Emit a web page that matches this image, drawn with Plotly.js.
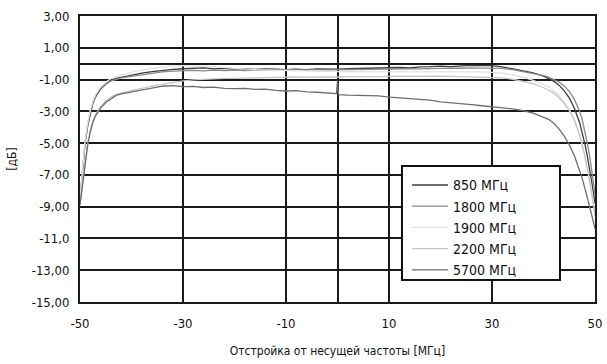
<!DOCTYPE html>
<html>
<head>
<meta charset="utf-8">
<script src="https://cdn.plot.ly/plotly-3.0.1.min.js"></script>
<style>html,body{margin:0;padding:0;background:#fff;}#chart{width:607px;height:364px;}</style>
</head>
<body>
<div id="chart"></div>
<script>
// Offset from carrier frequency [MHz]
const offset = [-50,-49.5,-49,-48.5,-48,-47.5,-47,-46,-45,-44,-43,-42,-40,-38,-36,-34,-32,-30,-28,-26,-24,-22,-20,-18,-16,-14,-12,-10,-8,-6,-4,-2,-0.2,0,0.2,2,4,6,8,10,12,14,16,18,20,22,24,26,28,30,32,34,36,38,40,41,42,43,44,45,46,47,47.5,48,48.5,49,49.5,50];

const s850 = [-8.6,-6.6,-5.0,-3.9,-3.1,-2.5,-2.1,-1.6,-1.3,-1.05,-0.92,-0.85,-0.72,-0.6,-0.5,-0.42,-0.36,-0.32,-0.3,-0.27,-0.33,-0.3,-0.34,-0.31,-0.36,-0.33,-0.35,-0.38,-0.34,-0.37,-0.33,-0.36,-0.35,-0.33,-0.35,-0.32,-0.3,-0.31,-0.27,-0.28,-0.24,-0.26,-0.2,-0.19,-0.16,-0.18,-0.13,-0.11,-0.12,-0.12,-0.2,-0.32,-0.43,-0.58,-0.78,-0.93,-1.1,-1.35,-1.7,-2.15,-2.8,-3.7,-4.3,-5.0,-5.8,-6.7,-7.7,-8.8];
const s1800 = [-8.5,-6.5,-4.9,-3.8,-3.0,-2.45,-2.05,-1.55,-1.28,-1.1,-0.98,-0.9,-0.8,-0.7,-0.6,-0.52,-0.47,-0.44,-0.42,-0.45,-0.41,-0.44,-0.4,-0.43,-0.39,-0.42,-0.4,-0.41,-0.38,-0.4,-0.37,-0.39,-0.38,-0.37,-0.38,-0.36,-0.38,-0.35,-0.36,-0.33,-0.35,-0.32,-0.33,-0.3,-0.31,-0.28,-0.29,-0.26,-0.28,-0.27,-0.3,-0.38,-0.5,-0.62,-0.75,-0.85,-0.98,-1.15,-1.4,-1.75,-2.25,-3.0,-3.5,-4.2,-5.0,-5.9,-7.0,-8.2];
const s1900 = [-8.4,-6.4,-4.8,-3.7,-2.9,-2.35,-1.95,-1.45,-1.15,-0.95,-0.8,-0.7,-0.55,-0.4,-0.3,-0.22,-0.15,-0.12,-0.12,-0.15,-0.2,-0.25,-0.3,-0.33,-0.38,-0.4,-0.42,-0.45,-0.47,-0.48,-0.5,-0.49,-0.5,-0.5,-0.51,-0.5,-0.52,-0.5,-0.53,-0.51,-0.5,-0.52,-0.5,-0.53,-0.51,-0.52,-0.5,-0.53,-0.52,-0.55,-0.6,-0.7,-0.85,-1.05,-1.3,-1.45,-1.7,-2.0,-2.4,-2.9,-3.5,-4.4,-5.0,-5.7,-6.5,-7.4,-8.4,-9.4];
const s2200 = [-8.8,-7.4,-6.1,-5.0,-4.2,-3.6,-3.2,-2.7,-2.35,-2.1,-1.95,-1.85,-1.7,-1.55,-1.42,-1.3,-1.18,-1.08,-1.02,-0.98,-0.96,-0.93,-0.92,-0.9,-0.88,-0.87,-0.86,-0.85,-0.84,-0.85,-0.83,-0.84,-0.84,-0.83,-0.84,-0.82,-0.83,-0.81,-0.82,-0.8,-0.79,-0.8,-0.78,-0.79,-0.78,-0.8,-0.82,-0.85,-0.88,-0.86,-0.9,-0.98,-1.1,-1.25,-1.5,-1.65,-1.85,-2.15,-2.5,-2.95,-3.55,-4.5,-5.1,-5.8,-6.6,-7.5,-8.5,-9.6];
const s5700 = [-8.9,-7.5,-6.2,-5.1,-4.3,-3.7,-3.3,-2.8,-2.45,-2.2,-2.0,-1.9,-1.78,-1.62,-1.5,-1.42,-1.38,-1.45,-1.43,-1.5,-1.48,-1.55,-1.57,-1.55,-1.62,-1.6,-1.68,-1.72,-1.7,-1.78,-1.8,-1.85,-1.88,-1.05,-1.95,-1.98,-2.0,-2.05,-2.03,-2.1,-2.15,-2.2,-2.25,-2.3,-2.4,-2.45,-2.5,-2.58,-2.65,-2.7,-2.78,-2.85,-2.95,-3.12,-3.35,-3.5,-3.75,-4.1,-4.55,-5.1,-5.8,-6.7,-7.2,-7.8,-8.4,-9.0,-9.7,-10.4];

const seriesNames = ['850 МГц','1800 МГц','1900 МГц','2200 МГц','5700 МГц'];
const seriesData = [s850, s1800, s1900, s2200, s5700];
const seriesColors = ['#3c3c3c','#8a8a8a','#e2e2e2','#c6c6c6','#6e6e6e'];

const yTickVals = [3,1,-1,-3,-5,-7,-9,-11,-13,-15];
const yTickText = ['3,00','1,00','-1,00','-3,00','-5,00','-7,00','-9,00','-11,0','-13,00','-15,00'];
const xTickVals = [-50,-30,-10,10,30,50];
const xTickText = ['-50','-30','-10','10','30','50'];

const FONT = '"Liberation Sans Narrow", "DejaVu Sans Condensed", "Arial Narrow", sans-serif';

const traces = seriesNames.map((n,i)=>({
  x: offset, y: seriesData[i], name: n, type: 'scatter', mode: 'lines',
  line: {color: seriesColors[i], width: 1.3}
}));

const layout = {
  width: 607, height: 364,
  margin: {l: 80, r: 12, t: 16, b: 62},
  paper_bgcolor: '#fff', plot_bgcolor: '#fff',
  font: {family: FONT, size: 13, color: '#111'},
  showlegend: true,
  legend: {
    x: 0.635, y: 0.4636, xanchor: 'left', yanchor: 'top',
    bgcolor: 'rgba(0,0,0,0)', borderwidth: 0,
    font: {family: FONT, size: 14, color: '#111'},
    itemwidth: 36
  },
  shapes: [{
    type: 'rect', xref: 'paper', yref: 'paper', layer: 'above',
    x0: 0.6252, x1: 0.932, y0: 0.077, y1: 0.4755,
    fillcolor: '#fff', line: {color: '#111', width: 2}
  }],
  xaxis: {
    range: [-50, 50], tickvals: xTickVals, ticktext: xTickText,
    showgrid: true, gridcolor: '#1a1a1a', gridwidth: 2,
    zeroline: true, zerolinecolor: '#1a1a1a', zerolinewidth: 2,
    showline: true, linecolor: '#1a1a1a', linewidth: 2, mirror: true,
    ticks: '', ticklabelstandoff: 8,
    tickfont: {family: FONT, size: 13, color: '#111'},
    title: {text: 'Отстройка от несущей частоты [МГц]', font: {family: FONT, size: 12, color: '#111'}, standoff: 17}
  },
  yaxis: {
    range: [-15, 3], tickvals: yTickVals, ticktext: yTickText,
    showgrid: true, gridcolor: '#1a1a1a', gridwidth: 2,
    zeroline: true, zerolinecolor: '#1a1a1a', zerolinewidth: 2,
    showline: true, linecolor: '#1a1a1a', linewidth: 2, mirror: true,
    ticks: '', ticklabelstandoff: 6,
    tickfont: {family: FONT, size: 13, color: '#111'},
    title: {text: '[дБ]', font: {family: FONT, size: 12, color: '#111'}, standoff: 12}
  }
};

Plotly.newPlot('chart', traces, layout, {displayModeBar: false, staticPlot: true});
</script>
</body>
</html>
